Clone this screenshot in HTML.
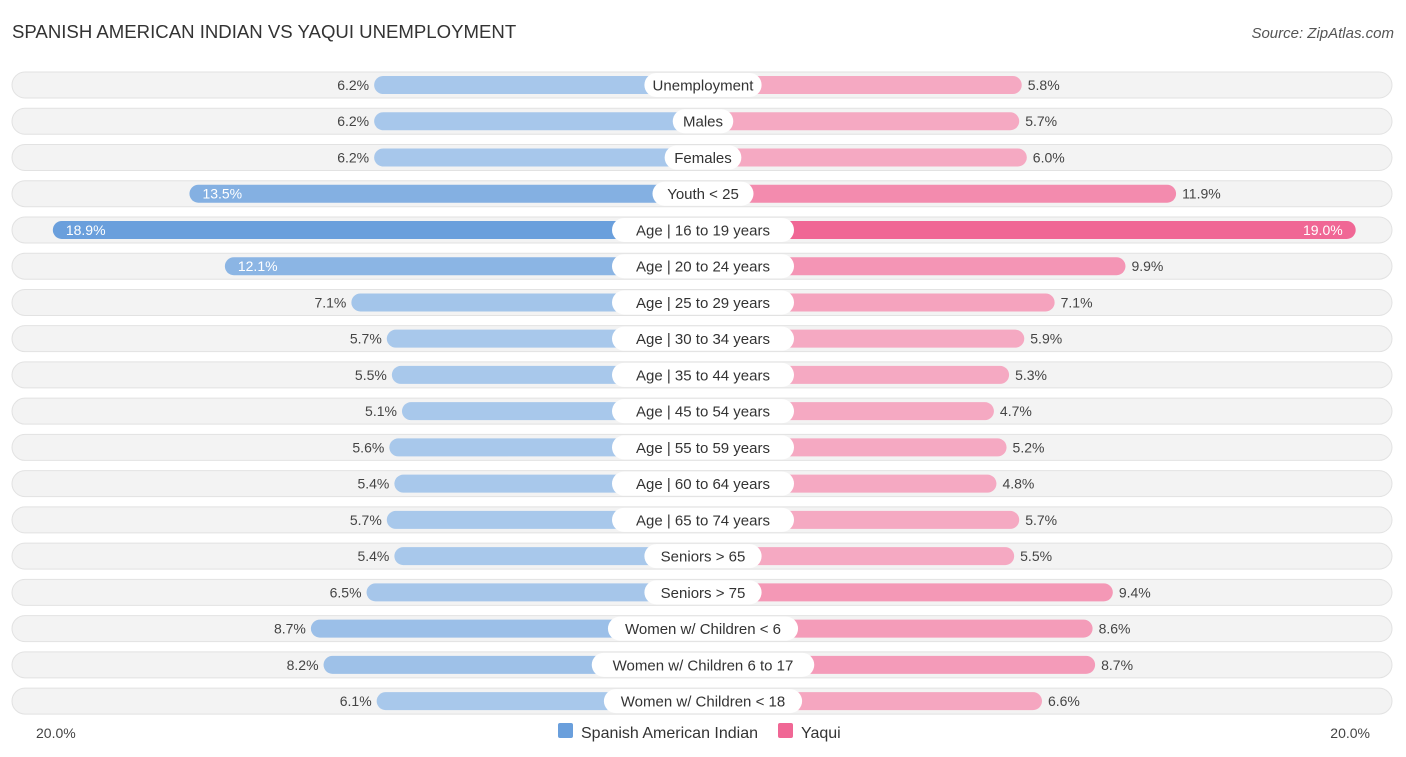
<!DOCTYPE html>
<html><head><meta charset="utf-8">
<style>
body{margin:0;background:#fff;font-family:"Liberation Sans",Arial,sans-serif;}
svg{display:block}
</style></head>
<body>
<svg id="chart" width="1406" height="757">
<text x="12" y="38" font-size="18.6" fill="#333">SPANISH AMERICAN INDIAN VS YAQUI UNEMPLOYMENT</text>
<text x="1394" y="38" font-size="15" fill="#555" text-anchor="end" font-style="italic">Source: ZipAtlas.com</text>
<g id="rows"></g>
<text x="36" y="738" font-size="14" fill="#444">20.0%</text>
<text x="1370" y="738" font-size="14" fill="#444" text-anchor="end">20.0%</text>
<g>
<rect x="558" y="723" width="15" height="15" rx="2" fill="#6a9fdc"/>
<text x="581" y="738" font-size="16" fill="#333">Spanish American Indian</text>
<rect x="778" y="723" width="15" height="15" rx="2" fill="#f06795"/>
<text x="801" y="738" font-size="16" fill="#333">Yaqui</text>
</g>
</svg>
<script>
const categories=["Unemployment","Males","Females","Youth < 25","Age | 16 to 19 years","Age | 20 to 24 years","Age | 25 to 29 years","Age | 30 to 34 years","Age | 35 to 44 years","Age | 45 to 54 years","Age | 55 to 59 years","Age | 60 to 64 years","Age | 65 to 74 years","Seniors > 65","Seniors > 75","Women w/ Children < 6","Women w/ Children 6 to 17","Women w/ Children < 18"];
const spanishValues=[6.2,6.2,6.2,13.5,18.9,12.1,7.1,5.7,5.5,5.1,5.6,5.4,5.7,5.4,6.5,8.7,8.2,6.1];
const yaquiValues=[5.8,5.7,6.0,11.9,19.0,9.9,7.1,5.9,5.3,4.7,5.2,4.8,5.7,5.5,9.4,8.6,8.7,6.6];
const cx=703, y0=85, dy=36.24;
function len(v){return 172+v*25.3;}
function rowY(i){return y0+i*dy;}
function mix(a,b,t){const p=s=>[1,3,5].map(k=>parseInt(s.substr(k,2),16));const A=p(a),B=p(b);return 'rgb('+A.map((x,k)=>Math.round(x+(B[k]-x)*t)).join(',')+')';}
function tOf(v){return Math.max(0,Math.min(1,(v-6)/13));}
const NS="http://www.w3.org/2000/svg";
const g=document.getElementById('rows');
function mk(tag,attrs,parent){const e=document.createElementNS(NS,tag);for(const k in attrs)e.setAttribute(k,attrs[k]);parent.appendChild(e);return e;}
categories.forEach((c,i)=>{
  const y=rowY(i);
  const bg=mk('rect',{x:12,y:y-13,width:1380,height:26,rx:13,fill:'#f3f3f3',stroke:'#e2e2e2'},g);
  
  
  const sv=spanishValues[i], yv=yaquiValues[i];
  const lw=len(sv), rw=len(yv);
  const lb=mk('rect',{x:cx-lw,y:y-9,width:lw,height:18,rx:9,fill:mix('#a8c8eb','#6a9fdc',tOf(sv))},g);
  
  
  const rb=mk('rect',{x:cx,y:y-9,width:rw,height:18,rx:9,fill:mix('#f5a9c2','#f06795',tOf(yv))},g);
  
  
  const inL=sv>12, inR=yv>12;
  const lt=mk('text',{x:inL?cx-lw+13:cx-lw-5,y:y+5,'font-size':14,fill:inL?'#fff':'#444','text-anchor':inL?'start':'end'},g);
  lt.textContent=sv.toFixed(1)+'%';
  
  
  const rt=mk('text',{x:inR?cx+rw-13:cx+rw+6,y:y+5,'font-size':14,fill:inR?'#fff':'#444','text-anchor':inR?'end':'start'},g);
  rt.textContent=yv.toFixed(1)+'%';
  
  
  const tw=c.length*8.1+20;
  const pill=mk('rect',{x:cx-tw/2,y:y-12,width:tw,height:24,rx:12,fill:'#fff'},g);
  
  
  const ct=mk('text',{x:cx,y:y+5.5,'font-size':15,fill:'#333','text-anchor':'middle'},g);
  ct.textContent=c;
  
  
});
</script>
</body></html>
